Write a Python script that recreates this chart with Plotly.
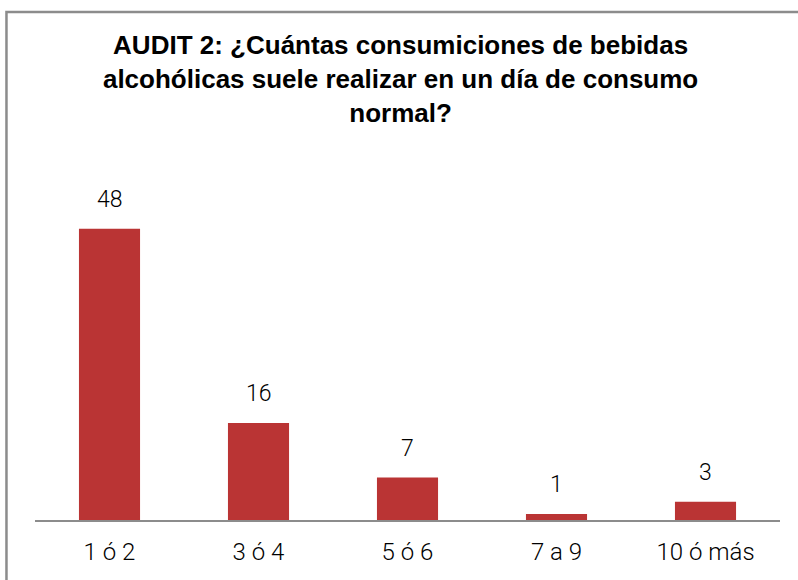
import plotly.graph_objects as go

# categorías y valores
categorias = ['1 ó 2', '3 ó 4', '5 ó 6', '7 a 9', '10 ó más']
valores = [48, 16, 7, 1, 3]

titulo = ('<b>AUDIT 2: ¿Cuántas consumiciones de bebidas<br>'
          'alcohólicas suele realizar en un día de consumo<br>normal?</b>')

fig = go.Figure(go.Bar(
    x=categorias,
    y=valores,
    width=0.41,
    marker=dict(color='#BA3434', line=dict(width=0)),
    hoverinfo='x+y'
))

# etiquetas de datos sobre cada barra
for c, v in zip(categorias, valores):
    fig.add_annotation(x=c, y=v, text=str(v), showarrow=False, yshift=29,
                       font=dict(family='Roboto', size=23, color='#000000', weight=300))

# marco exterior del gráfico
fig.add_shape(type='rect', xref='paper', yref='paper',
              x0=-0.0383, x1=1.1, y0=-0.3, y1=1.3956,
              line=dict(color='#8C8C8C', width=2.5), layer='above')

fig.update_layout(
    width=798, height=580,
    margin=dict(l=35, r=18, t=156, b=60),
    paper_bgcolor='white', plot_bgcolor='white',
    title=dict(text=titulo, x=0.502, xanchor='center', xref='container',
               y=0.907, yanchor='top', yref='container',
               font=dict(family='Liberation Sans', size=26, color='#000000')),
    xaxis=dict(showline=True, linecolor='#8C8C8C', linewidth=2,
               ticks='', ticklabelstandoff=9, showgrid=False,
               tickfont=dict(family='Roboto', size=24, color='#000000', weight=300)),
    yaxis=dict(range=[0, 60], visible=False, showgrid=False),
    showlegend=False,
    bargap=0.59
)

fig.write_html("out.html", config={'displayModeBar': False},
               post_script="document.body.style.margin='0';")
